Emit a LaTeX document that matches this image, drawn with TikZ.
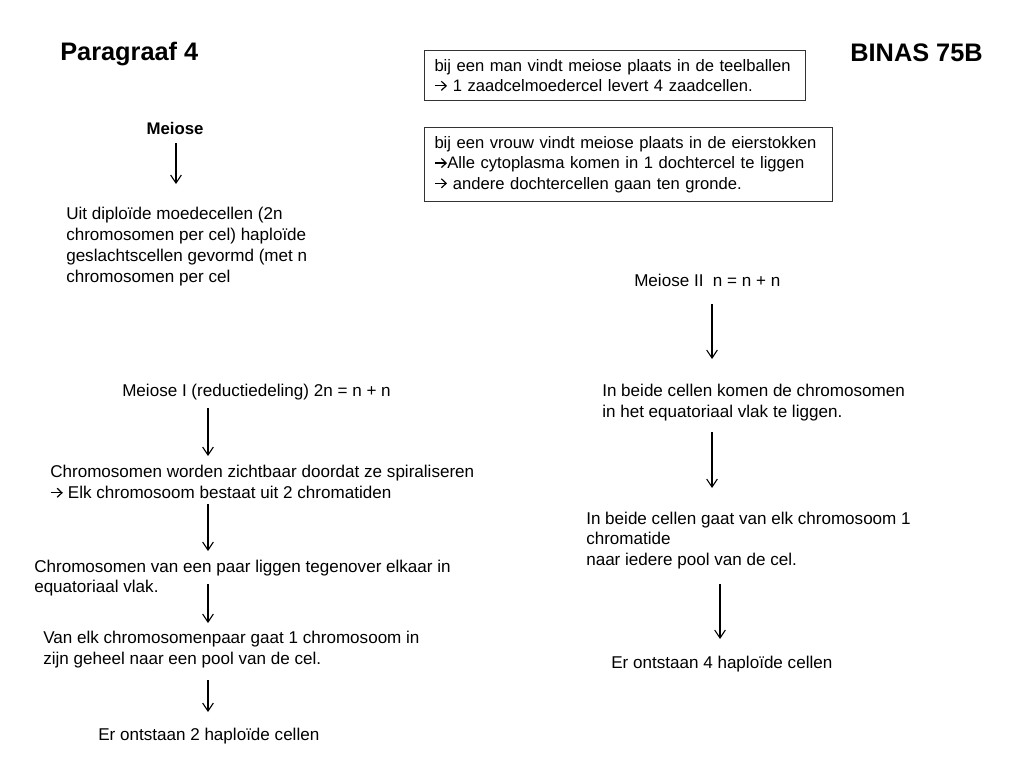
\documentclass[tikz,border=0pt]{standalone}
\usepackage{fontspec}
\setmainfont{Liberation Sans}
\newcommand{\rarr}{\tikz[baseline=0pt,x=1pt,y=1pt]{\path (0,0) rectangle (9.5,8);\draw[line width=0.9pt] (0.3,4.3)--(8.4,4.3); \draw[line width=0.9pt,line join=miter] (5,0.9)--(8.6,4.3)--(5,7.7);}}
\usetikzlibrary{arrows.meta}
\begin{document}
\begin{tikzpicture}[x=0.75pt,y=-0.75pt,
  txt/.style={anchor=west,inner sep=0pt,align=left,font=\fontsize{12.8}{15.6}\selectfont},
  ttl/.style={inner sep=0pt,font=\fontsize{19}{22}\selectfont\bfseries},
  infobox/.style={draw=black!80,line width=0.75pt,anchor=north west,inner xsep=7.5pt,inner ysep=0pt,align=left,font=\fontsize{12.45}{15.2}\selectfont},
  flow/.style={draw,line width=0.8pt,-{Straight Barb[length=6pt,width=8pt,line width=0.8pt]}}]
\useasboundingbox (0,0) rectangle (1024,768);
\node[ttl,anchor=west] (par) at (60,54) {Paragraaf 4};
\node[ttl,anchor=east] (binas) at (983,53) {BINAS 75B};
\node[infobox,text width=270.75pt,minimum height=37.5pt] (man) at (424,50)
  {bij een man vindt meiose plaats in de teelballen\\\rarr\ 1 zaadcelmoedercel levert 4 zaadcellen.};
\node[infobox,text width=291pt,minimum height=55.5pt] (vrouw) at (424,127)
  {bij een vrouw vindt meiose plaats in de eierstokken\\\rarr Alle cytoplasma komen in 1 dochtercel te liggen\\\rarr\ andere dochtercellen gaan ten gronde.};
\node[txt,anchor=center,font=\fontsize{12.6}{15.6}\selectfont\bfseries] (meiose) at (175,128) {Meiose};
\node[txt] (uit) at (66,246.5) {Uit diploïde moedecellen (2n\\chromosomen per cel) haploïde\\geslachtscellen gevormd (met n\\chromosomen per cel};
\node[txt] (m1) at (122,392) {Meiose I (reductiedeling) 2n = n + n};
\node[txt] (zicht) at (50,482) {Chromosomen worden zichtbaar doordat ze spiraliseren\\\rarr\ Elk chromosoom bestaat uit 2 chromatiden};
\node[txt] (paar) at (34,578) {Chromosomen van een paar liggen tegenover elkaar in\\equatoriaal vlak.};
\node[txt] (elk) at (43,649.5) {Van elk chromosomenpaar gaat 1 chromosoom in\\zijn geheel naar een pool van de cel.};
\node[txt] (twee) at (98,736) {Er ontstaan 2 haploïde cellen};
\node[txt] (m2) at (634,280) {Meiose II\ \ n = n + n};
\node[txt] (beide) at (602,402.5) {In beide cellen komen de chromosomen\\in het equatoriaal vlak te liggen.};
\node[txt] (gaat) at (586,540.5) {In beide cellen gaat van elk chromosoom 1\\chromatide\\naar iedere pool van de cel.};
\node[txt] (vier) at (611,664) {Er ontstaan 4 haploïde cellen};
% connector end points
\coordinate (a1s) at (176,143); \coordinate (a1e) at (176,184);
\coordinate (a2s) at (208,408); \coordinate (a2e) at (208,456);
\coordinate (a3s) at (208,504); \coordinate (a3e) at (208,551);
\coordinate (a4s) at (208,584); \coordinate (a4e) at (208,623);
\coordinate (a5s) at (208,680); \coordinate (a5e) at (208,712);
\coordinate (b1s) at (712,304); \coordinate (b1e) at (712,359);
\coordinate (b2s) at (712,432); \coordinate (b2e) at (712,488);
\coordinate (b3s) at (720,584); \coordinate (b3e) at (720,639);
\draw[flow] (a1s) -- (a1e);
\draw[flow] (a2s) -- (a2e);
\draw[flow] (a3s) -- (a3e);
\draw[flow] (a4s) -- (a4e);
\draw[flow] (a5s) -- (a5e);
\draw[flow] (b1s) -- (b1e);
\draw[flow] (b2s) -- (b2e);
\draw[flow] (b3s) -- (b3e);
\end{tikzpicture}
\end{document}
